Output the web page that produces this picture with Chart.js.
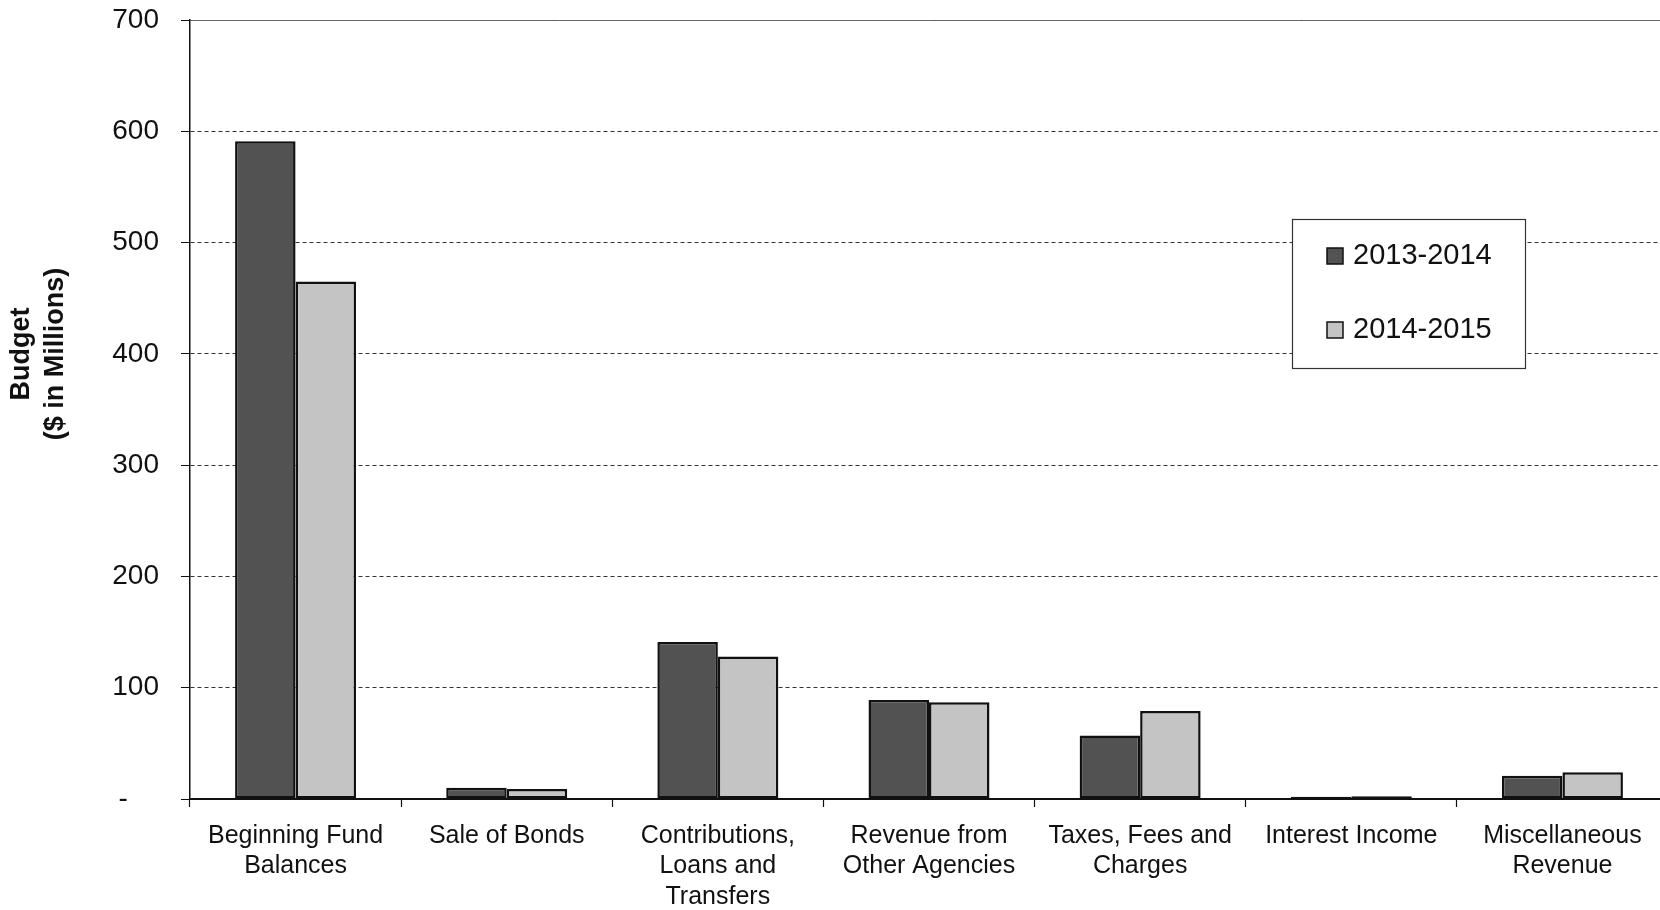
<!DOCTYPE html>
<html>
<head>
<meta charset="utf-8">
<script src="https://cdn.jsdelivr.net/npm/chart.js@4.4.1/dist/chart.umd.min.js"></script>
<style>
  html, body { margin: 0; padding: 0; background: #fff; overflow: hidden; }
  #wrap { position: relative; width: 1670px; height: 910px; }
</style>
</head>
<body>
<div id="wrap"><canvas id="chart"></canvas></div>
<script>
const categories = [
    ['Beginning Fund', 'Balances'],
    'Sale of Bonds',
    ['Contributions,', 'Loans and', 'Transfers'],
    ['Revenue from', 'Other Agencies'],
    ['Taxes, Fees and', 'Charges'],
    'Interest Income',
    ['Miscellaneous', 'Revenue']
];
const seriesNames = ['2013-2014', '2014-2015'];
const budget2013 = [591, 10, 141, 89, 57, 2, 21];
const budget2014 = [465, 9, 128, 87, 79, 2.5, 24];
const yTicks = [0, 100, 200, 300, 400, 500, 600, 700];
const yTitle = ['Budget', '($ in Millions)'];

const FONT = "'Liberation Sans', Arial, sans-serif";

// y title drawn by hand so it can sit above the axis centre like the original
const yTitlePlugin = {
    id: 'yTitle',
    afterDraw(chart) {
        const ctx = chart.ctx;
        ctx.save();
        ctx.translate(22, 354);
        ctx.rotate(-Math.PI / 2);
        ctx.font = 'bold 27px ' + FONT;
        ctx.fillStyle = '#111';
        ctx.textAlign = 'center';
        ctx.textBaseline = 'middle';
        ctx.fillText(yTitle[0], 0, 0);
        ctx.fillText(yTitle[1], 0, 34);
        ctx.restore();
    }
};

// boxed legend inside the plot area
const boxLegendPlugin = {
    id: 'boxLegend',
    afterDraw(chart) {
        const ctx = chart.ctx;
        const x = 1292, y = 219, w = 233, h = 149;
        ctx.save();
        ctx.fillStyle = '#fff';
        ctx.fillRect(x, y, w, h);
        ctx.strokeStyle = '#333';
        ctx.lineWidth = 1.2;
        ctx.strokeRect(x + 0.5, y + 0.5, w, h);
        ctx.font = '29px ' + FONT;
        ctx.textBaseline = 'middle';
        ctx.textAlign = 'left';
        chart.data.datasets.forEach((ds, i) => {
            const cy = 256 + i * 74;
            ctx.fillStyle = ds.backgroundColor;
            ctx.fillRect(x + 35, cy - 8, 16, 16);
            ctx.strokeStyle = '#111';
            ctx.lineWidth = 1.5;
            ctx.strokeRect(x + 35, cy - 8, 16, 16);
            ctx.fillStyle = '#111';
            ctx.fillText(ds.label, x + 61, cy);
        });
        ctx.restore();
    }
};

const ctx = document.getElementById('chart').getContext('2d');

new Chart(ctx, {
    type: 'bar',
    data: {
        labels: categories,
        datasets: [
            {
                label: seriesNames[0],
                data: budget2013,
                backgroundColor: '#525252',
                borderColor: '#111',
                borderWidth: 2.5,
                borderSkipped: false
            },
            {
                label: seriesNames[1],
                data: budget2014,
                backgroundColor: '#c4c4c4',
                borderColor: '#111',
                borderWidth: 2.5,
                borderSkipped: false
            }
        ]
    },
    options: {
        responsive: true,
        maintainAspectRatio: false,
        animation: false,
        layout: { padding: { top: 20, right: 2, left: 0, bottom: 0 } },
        datasets: {
            bar: { categoryPercentage: 0.573, barPercentage: 1 }
        },
        plugins: {
            legend: { display: false },
            tooltip: { enabled: false }
        },
        scales: {
            x: {
                afterFit(scale) { scale.height = 111; },
                grid: {
                    offset: true,
                    drawOnChartArea: false,
                    drawTicks: true,
                    tickLength: 8,
                    tickColor: '#111',
                    tickWidth: 1.2
                },
                border: { display: true, color: '#111', width: 2 },
                ticks: {
                    color: '#111',
                    font: { family: FONT, size: 25, lineHeight: 1.21 },
                    padding: 14,
                    maxRotation: 0,
                    autoSkip: false
                }
            },
            y: {
                min: 0,
                max: 700,
                afterFit(scale) {
                    scale.width = 190;
                    // labels may overhang the plot edges, as in the original
                    scale.paddingTop = 0;
                    scale.paddingBottom = 0;
                },
                afterBuildTicks(scale) {
                    scale.ticks = yTicks.map(v => ({ value: v }));
                },
                grid: {
                    color: c => (c.tick && c.tick.value === 700) ? '#666' : '#333',
                    lineWidth: 1,
                    drawTicks: true,
                    tickLength: 9,
                    tickColor: '#111',
                    tickBorderDash: []
                },
                border: {
                    display: true,
                    color: '#111',
                    width: 1.5,
                    dash: c => (c.tick && c.tick.value === 700) ? [] : [4, 3]
                },
                ticks: {
                    color: '#111',
                    font: { family: FONT, size: 28 },
                    padding: 22,
                    callback: v => v === 0 ? '-    ' : String(v)
                }
            }
        }
    },
    plugins: [yTitlePlugin, boxLegendPlugin]
});
</script>
</body>
</html>
